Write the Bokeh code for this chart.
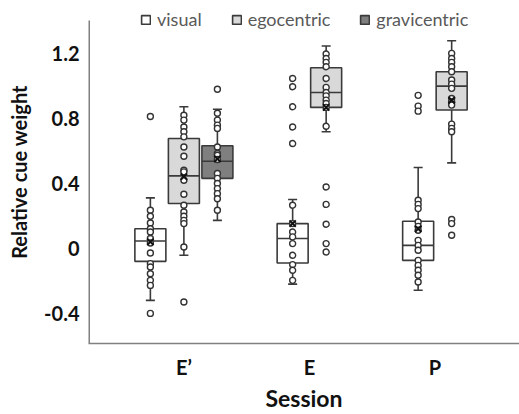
from bokeh.plotting import figure
from bokeh.models import Range1d, FixedTicker, NumeralTickFormatter, Legend, LegendItem, ColumnDataSource
from bokeh.embed import file_html
from bokeh.resources import INLINE

# ---- data ----
sessions = ["E\u2019", "E", "P"]
cues = ["visual", "egocentric", "gravicentric"]
cue_fill = {"visual": "#ffffff", "egocentric": "#d9d9d9", "gravicentric": "#7f7f7f"}

box_session = ["E\u2019", "E\u2019", "E\u2019", "E", "E", "P", "P"]
box_cue = ["visual", "egocentric", "gravicentric", "visual", "egocentric", "visual", "egocentric"]
q1 = [-0.08, 0.275, 0.43, -0.09, 0.866, -0.074, 0.85]
median = [0.045, 0.445, 0.535, 0.06, 0.958, 0.018, 0.997]
q3 = [0.12, 0.675, 0.63, 0.152, 1.11, 0.166, 1.085]
whisker_lo = [-0.32, -0.043, 0.172, -0.22, 0.716, -0.258, 0.525]
whisker_hi = [0.31, 0.87, 0.855, 0.30, 1.243, 0.497, 1.276]
mean = [0.04, 0.44, 0.55, 0.152, 0.866, 0.12, 0.91]

pts_Ep_visual = [0.81, 0.234, 0.197, 0.156, 0.12, 0.10, 0.06, 0.033, -0.029, -0.094, -0.115, -0.156, -0.197, -0.228, -0.40]
pts_Ep_ego = [0.818, 0.788, 0.746, 0.716, 0.685, 0.623, 0.566, 0.48, 0.47, 0.418, 0.332, 0.265, 0.223, 0.197, 0.172, 0.152, 0.008, -0.33]
pts_Ep_grav = [0.978, 0.83, 0.788, 0.757, 0.737, 0.623, 0.583, 0.572, 0.546, 0.46, 0.43, 0.398, 0.367, 0.336, 0.305, 0.234]
pts_E_visual = [1.044, 0.993, 0.87, 0.746, 0.644, 0.265, 0.152, 0.10, 0.07, 0.029, -0.043, -0.10, -0.135, -0.197]
pts_E_ego = [1.194, 1.167, 1.143, 1.116, 1.044, 0.989, 0.958, 0.937, 0.911, 0.89, 0.866, 0.75, 0.377, 0.27, 0.148, 0.029, -0.023]
pts_P_visual = [0.94, 0.874, 0.843, 0.295, 0.27, 0.244, 0.162, 0.135, 0.111, 0.049, 0.018, -0.012, -0.074, -0.105, -0.135, -0.166, -0.207]
pts_P_ego = [1.198, 1.167, 1.143, 1.116, 1.085, 1.034, 1.009, 0.983, 0.921, 0.9, 0.88, 0.763, 0.737, 0.716, 0.177, 0.152, 0.08]
box_points = [pts_Ep_visual, pts_Ep_ego, pts_Ep_grav, pts_E_visual, pts_E_ego, pts_P_visual, pts_P_ego]

y_ticks = [-0.4, 0, 0.4, 0.8, 1.2]
y_axis_top = 1.40

# ---- layout constants ----
slot = 0.267
box_w = 0.247
cap_w = 0.036
edge = "#3a3a3a"
FONT = "Lato"

sess_idx = {s: i for i, s in enumerate(sessions)}
n_in_sess = {s: box_session.count(s) for s in sessions}
seen = {s: 0 for s in sessions}
bx = []
for s in box_session:
    k = seen[s]
    seen[s] += 1
    bx.append(sess_idx[s] + (k - (n_in_sess[s] - 1) / 2) * slot)

x_start, x_end = -0.76, 2.674
y_start, y_end = -0.585, 1.523
p = figure(width=519, height=414, output_backend="svg", toolbar_location=None,
           x_range=Range1d(x_start, x_end), y_range=Range1d(y_start, y_end),
           min_border_left=88, min_border_right=0, min_border_top=0, min_border_bottom=71)
p.outline_line_color = None
p.grid.visible = False
p.background_fill_color = "white"
p.border_fill_color = "white"

# left axis line (stops below the legend, as in the reference)
p.segment(x0=[x_start], x1=[x_start], y0=[y_start], y1=[y_axis_top], line_color="#808080", line_width=3)

# boxes per cue
renderers = {}
for cue in cues:
    idx = [i for i, c in enumerate(box_cue) if c == cue]
    src = ColumnDataSource(dict(
        left=[bx[i] - box_w / 2 for i in idx], right=[bx[i] + box_w / 2 for i in idx],
        bottom=[q1[i] for i in idx], top=[q3[i] for i in idx]))
    renderers[cue] = p.quad(left="left", right="right", bottom="bottom", top="top", source=src,
                            fill_color=cue_fill[cue], line_color=edge, line_width=1.6)

# medians
p.segment(x0=[x - box_w / 2 for x in bx], x1=[x + box_w / 2 for x in bx], y0=median, y1=median,
          line_color=edge, line_width=1.6)
# whiskers
p.segment(x0=bx, x1=bx, y0=q3, y1=whisker_hi, line_color=edge, line_width=1.6)
p.segment(x0=bx, x1=bx, y0=q1, y1=whisker_lo, line_color=edge, line_width=1.6)
p.segment(x0=[x - cap_w for x in bx], x1=[x + cap_w for x in bx], y0=whisker_hi, y1=whisker_hi,
          line_color=edge, line_width=1.6)
p.segment(x0=[x - cap_w for x in bx], x1=[x + cap_w for x in bx], y0=whisker_lo, y1=whisker_lo,
          line_color=edge, line_width=1.6)

# inner and outlier points
px, py = [], []
for i, pts in enumerate(box_points):
    px += [bx[i]] * len(pts)
    py += pts
p.scatter(px, py, marker="circle", size=6, fill_color="white", line_color="#333333", line_width=1.4)

# means
p.scatter(bx, mean, marker="x", size=9, line_color="#111111", line_width=2)

# axes
p.xaxis.ticker = FixedTicker(ticks=list(range(len(sessions))))
p.xaxis.major_label_overrides = {i: s for i, s in enumerate(sessions)}
p.yaxis.ticker = FixedTicker(ticks=y_ticks)
p.yaxis.formatter = NumeralTickFormatter(format="0.[0]")
for ax in (p.xaxis[0], p.yaxis[0]):
    ax.axis_line_color = "#808080"
    ax.axis_line_width = 1.5
    ax.major_tick_line_color = None
    ax.minor_tick_line_color = None
    ax.major_tick_out = 0
    ax.major_tick_in = 0
    ax.major_label_text_font = FONT
    ax.major_label_text_font_style = "bold"
    ax.major_label_text_color = "#111111"
    ax.axis_label_text_font = FONT
    ax.axis_label_text_font_style = "bold"
    ax.axis_label_text_color = "#111111"
p.yaxis.axis_line_color = None
p.yaxis.major_label_text_font_size = "20px"
p.xaxis.major_label_text_font_size = "20px"
p.yaxis.major_label_standoff = 9
p.xaxis.major_label_standoff = 11
p.yaxis.axis_label = "Relative cue weight"
p.yaxis.axis_label_text_font_size = "20px"
p.yaxis.axis_label_standoff = 10
p.xaxis.axis_label = "Session"
p.xaxis.axis_label_text_font_size = "23px"
p.xaxis.axis_label_standoff = 2

legend = Legend(items=[LegendItem(label=c, renderers=[renderers[c]]) for c in cues],
                orientation="horizontal", location=(52, 313), padding=0, margin=0,
                spacing=29, label_standoff=6, glyph_width=11, glyph_height=11,
                border_line_color=None, background_fill_alpha=0,
                label_text_font=FONT, label_text_font_size="18px", label_text_color="#595959")
p.add_layout(legend)

open("out.html", "w").write(file_html(p, INLINE))
